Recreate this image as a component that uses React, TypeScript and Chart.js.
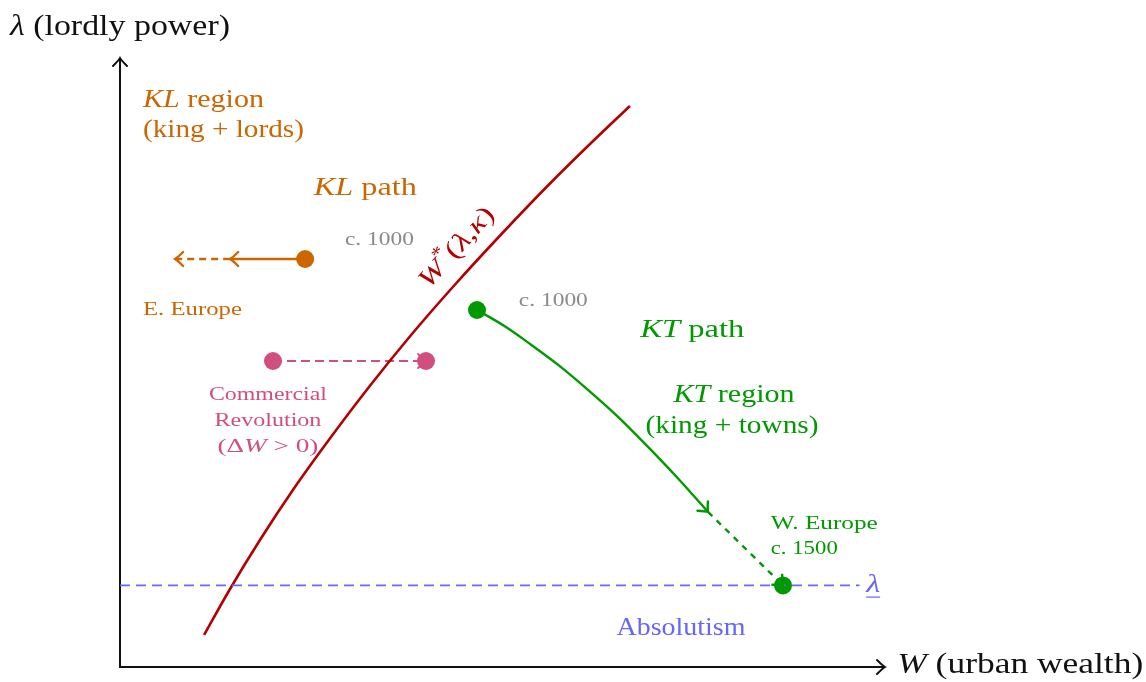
import React, { useEffect, useRef } from "react";
import { Chart, registerables } from "chart.js";

Chart.register(...registerables);

// ---- data (in diagram units: W = urban wealth, L = lordly power) ----
const wStarW = [1.65, 2.14, 2.75, 3.41, 4.13, 4.89, 5.7, 6.57, 7.49, 8.45, 9.47, 10.0];
const wStarL = [0.63, 1.5, 2.5, 3.5, 4.5, 5.5, 6.5, 7.5, 8.5, 9.5, 10.5, 11.0];
const ktPathW = [7.0, 7.53, 8.06, 8.61, 9.17, 9.75, 10.33, 10.92, 11.53];
const ktPathL = [7.0, 6.69, 6.32, 5.91, 5.44, 4.92, 4.34, 3.72, 3.04];
const ktDashW = [11.53, 13.0];
const ktDashL = [3.04, 1.6];
const klPathW = [3.63, 2.16];
const klPathL = [8.0, 8.0];
const klDashW = [2.16, 1.08];
const klDashL = [8.0, 8.0];
const crW = [3.0, 6.0];
const crL = [6.0, 6.0];
const lambdaBarW = [0, 14.5];
const lambdaBarL = [1.6, 1.6];
const axisMaxW = 15.0;
const axisMaxL = 11.94;

const ORANGE = "#cc6600";
const RED = "#b30000";
const GREEN = "#009900";
const PINK = "#d24e7c";
const BLUE = "#6666ff";
const GRAY = "#8a8a8a";
const BLACK = "#111111";
const FONT = '"Liberation Serif", "DejaVu Serif", serif';

type Run = { t: string; i?: boolean; sup?: boolean };
type Label = {
  runs: Run[];
  w: number;
  l: number;
  size: number;
  width: number;
  color: string;
  align: "left" | "center";
  rot?: number;
  underline?: boolean;
};

const labels: Label[] = [
  { runs: [{ t: "λ", i: true }, { t: " (lordly power)" }], w: -2.157, l: 12.55, size: 29, width: 220, color: BLACK, align: "left" },
  { runs: [{ t: "W", i: true }, { t: " (urban wealth)" }], w: 15.24, l: 0.04, size: 29, width: 246, color: BLACK, align: "left" },
  { runs: [{ t: "KL", i: true }, { t: " region" }], w: 0.45, l: 11.12, size: 26, width: 121, color: ORANGE, align: "left" },
  { runs: [{ t: "(king + lords)" }], w: 0.45, l: 10.53, size: 26, width: 161, color: ORANGE, align: "left" },
  { runs: [{ t: "KL", i: true }, { t: " path" }], w: 3.8, l: 9.39, size: 26, width: 103, color: ORANGE, align: "left" },
  { runs: [{ t: "c. 1000" }], w: 4.41, l: 8.37, size: 19, width: 69, color: GRAY, align: "left" },
  { runs: [{ t: "E. Europe" }], w: 0.45, l: 7.0, size: 19, width: 99, color: ORANGE, align: "left" },
  { runs: [{ t: "Commercial" }], w: 2.9, l: 5.33, size: 19, width: 118, color: PINK, align: "center" },
  { runs: [{ t: "Revolution" }], w: 2.9, l: 4.82, size: 19, width: 107, color: PINK, align: "center" },
  { runs: [{ t: "(Δ" }, { t: "W", i: true }, { t: " > 0)" }], w: 2.9, l: 4.31, size: 19, width: 101, color: PINK, align: "center" },
  {
    runs: [{ t: "W", i: true }, { t: "*", sup: true }, { t: "(" }, { t: "λ", i: true }, { t: "," }, { t: "κ", i: true }, { t: ")" }],
    w: 6.61, l: 8.22, size: 26, width: 100, color: RED, align: "center", rot: -48,
  },
  { runs: [{ t: "c. 1000" }], w: 7.82, l: 7.18, size: 19, width: 69, color: GRAY, align: "left" },
  { runs: [{ t: "KT", i: true }, { t: " path" }], w: 10.2, l: 6.61, size: 26, width: 104, color: GREEN, align: "left" },
  { runs: [{ t: "KT", i: true }, { t: " region" }], w: 12.04, l: 5.33, size: 26, width: 121, color: GREEN, align: "center" },
  { runs: [{ t: "(king + towns)" }], w: 12.0, l: 4.73, size: 26, width: 173, color: GREEN, align: "center" },
  { runs: [{ t: "W. Europe" }], w: 12.76, l: 2.8, size: 19, width: 107, color: GREEN, align: "left" },
  { runs: [{ t: "c. 1500" }], w: 12.76, l: 2.31, size: 19, width: 67, color: GREEN, align: "left" },
  { runs: [{ t: "λ", i: true }], w: 14.63, l: 1.6, size: 26, width: 14, color: BLUE, align: "left", underline: true },
  { runs: [{ t: "Absolutism" }], w: 11.0, l: 0.76, size: 25, width: 129, color: BLUE, align: "center" },
];

function pts(xs: number[], ys: number[]) {
  return xs.map((x, i) => ({ x, y: ys[i] }));
}

function fontOf(r: Run, size: number) {
  const s = r.sup ? size * 0.7 : size;
  return `${r.i ? "italic " : ""}${s}px ${FONT}`;
}

function drawRuns(ctx: CanvasRenderingContext2D, lab: Label, x: number, y: number) {
  let total = 0;
  const widths = lab.runs.map((r) => {
    ctx.font = fontOf(r, lab.size);
    const w = ctx.measureText(r.t).width;
    total += w;
    return w;
  });
  const sx = lab.width / total;
  ctx.save();
  const left = lab.align === "center" ? x - lab.width / 2 : x;
  ctx.translate(left, y);
  ctx.scale(sx, 1);
  let cx = 0;
  ctx.fillStyle = lab.color;
  ctx.textBaseline = "middle";
  ctx.textAlign = "left";
  lab.runs.forEach((r, i) => {
    ctx.font = fontOf(r, lab.size);
    ctx.fillText(r.t, cx, r.sup ? -lab.size * 0.38 : 0);
    cx += widths[i];
  });
  ctx.restore();
  if (lab.underline) {
    ctx.strokeStyle = lab.color;
    ctx.lineWidth = 1.2;
    ctx.beginPath();
    ctx.moveTo(left, y + lab.size * 0.45);
    ctx.lineTo(left + lab.width, y + lab.size * 0.45);
    ctx.stroke();
  }
}

function arrowHead(ctx: CanvasRenderingContext2D, x: number, y: number, ang: number, color: string, lw: number) {
  ctx.save();
  ctx.translate(x, y);
  ctx.rotate(ang);
  ctx.strokeStyle = color;
  ctx.lineWidth = lw;
  ctx.lineCap = "round";
  ctx.setLineDash([]);
  ctx.beginPath();
  ctx.moveTo(-8, -7);
  ctx.quadraticCurveTo(-2.5, -1.5, 0, 0);
  ctx.quadraticCurveTo(-2.5, 1.5, -8, 7);
  ctx.stroke();
  ctx.restore();
}

const diagramPlugin = {
  id: "diagram",
  beforeDatasetsDraw(chart: any) {
    const { ctx, scales } = chart;
    const xs = scales.x;
    const ys = scales.y;
    const ox = xs.getPixelForValue(0);
    const oy = ys.getPixelForValue(0);
    const ex = xs.getPixelForValue(axisMaxW);
    const ey = ys.getPixelForValue(axisMaxL);
    ctx.save();
    ctx.strokeStyle = BLACK;
    ctx.lineWidth = 2;
    ctx.beginPath();
    ctx.moveTo(ex, oy);
    ctx.lineTo(ox, oy);
    ctx.lineTo(ox, ey);
    ctx.stroke();
    arrowHead(ctx, ex, oy, 0, BLACK, 2);
    arrowHead(ctx, ox, ey, -Math.PI / 2, BLACK, 2);
    ctx.restore();
  },
  afterDatasetsDraw(chart: any) {
    const { ctx, scales } = chart;
    const xs = scales.x;
    const ys = scales.y;
    const P = (w: number, l: number) => [xs.getPixelForValue(w), ys.getPixelForValue(l)];
    const dirArrow = (wA: number[], lA: number[], color: string, lw: number) => {
      const n = wA.length;
      const [x1, y1] = P(wA[n - 2], lA[n - 2]);
      const [x2, y2] = P(wA[n - 1], lA[n - 1]);
      arrowHead(ctx, x2, y2, Math.atan2(y2 - y1, x2 - x1), color, lw);
    };
    ctx.save();
    dirArrow(klPathW, klPathL, ORANGE, 2.4);
    dirArrow(klDashW, klDashL, ORANGE, 2.4);
    dirArrow(crW, crL, PINK, 1.8);
    dirArrow(ktPathW, ktPathL, GREEN, 2.4);
    dirArrow(ktDashW, ktDashL, GREEN, 2.4);
    labels.forEach((lab) => {
      const [x, y] = P(lab.w, lab.l);
      if (lab.rot) {
        ctx.save();
        ctx.translate(x, y);
        ctx.rotate((lab.rot * Math.PI) / 180);
        drawRuns(ctx, lab, 0, 0);
        ctx.restore();
      } else {
        drawRuns(ctx, lab, x, y);
      }
    });
    ctx.restore();
  },
};

export default function App() {
  const ref = useRef<HTMLCanvasElement | null>(null);
  useEffect(() => {
    if (!ref.current) return;
    const lineDs = (data: any[], color: string, width: number, dash: number[] = [], smooth = false) => ({
      type: "line" as const,
      data,
      borderColor: color,
      backgroundColor: color,
      borderWidth: width,
      borderDash: dash,
      pointRadius: 0,
      cubicInterpolationMode: smooth ? ("monotone" as const) : ("default" as const),
      tension: 0,
      fill: false,
      showLine: true,
      clip: false as any,
    });
    const dotDs = (data: any[], color: string) => ({
      type: "scatter" as const,
      data,
      backgroundColor: color,
      borderColor: color,
      borderWidth: 0,
      pointRadius: 9,
      showLine: false,
      clip: false as any,
    });
    const chart = new Chart(ref.current, {
      type: "scatter",
      data: {
        datasets: [
          lineDs(pts(lambdaBarW, lambdaBarL), BLUE, 1.6, [10, 6]),
          lineDs(pts(wStarW, wStarL), RED, 2.6, [], true),
          lineDs(pts(klPathW, klPathL), ORANGE, 2.4),
          lineDs(pts(klDashW, klDashL), ORANGE, 2.4, [7, 5]),
          lineDs(pts(crW, crL), PINK, 1.8, [9, 5]),
          lineDs(pts(ktPathW, ktPathL), GREEN, 2.4, [], true),
          lineDs(pts(ktDashW, ktDashL), GREEN, 2.4, [6, 6]),
          dotDs([{ x: klPathW[0], y: klPathL[0] }], ORANGE),
          dotDs(pts(crW, crL), PINK),
          dotDs([{ x: ktPathW[0], y: ktPathL[0] }, { x: ktDashW[1], y: ktDashL[1] }], GREEN),
        ] as any,
      },
      options: {
        responsive: false,
        animation: false,
        devicePixelRatio: 1,
        layout: { autoPadding: false, padding: { left: 18, right: 6, top: 4, bottom: 4.8 } },
        plugins: { legend: { display: false }, tooltip: { enabled: false } },
        events: [],
        scales: {
          x: { type: "linear", min: -2, max: 20, display: false },
          y: { type: "linear", min: -0.2, max: 13, display: false },
        },
      },
      plugins: [diagramPlugin],
    });
    return () => chart.destroy();
  }, []);
  return (
    <div style={{ position: "absolute", left: 0, top: 0, width: 1146, height: 682, background: "#fff" }}>
      <canvas ref={ref} width={1146} height={682} />
    </div>
  );
}
